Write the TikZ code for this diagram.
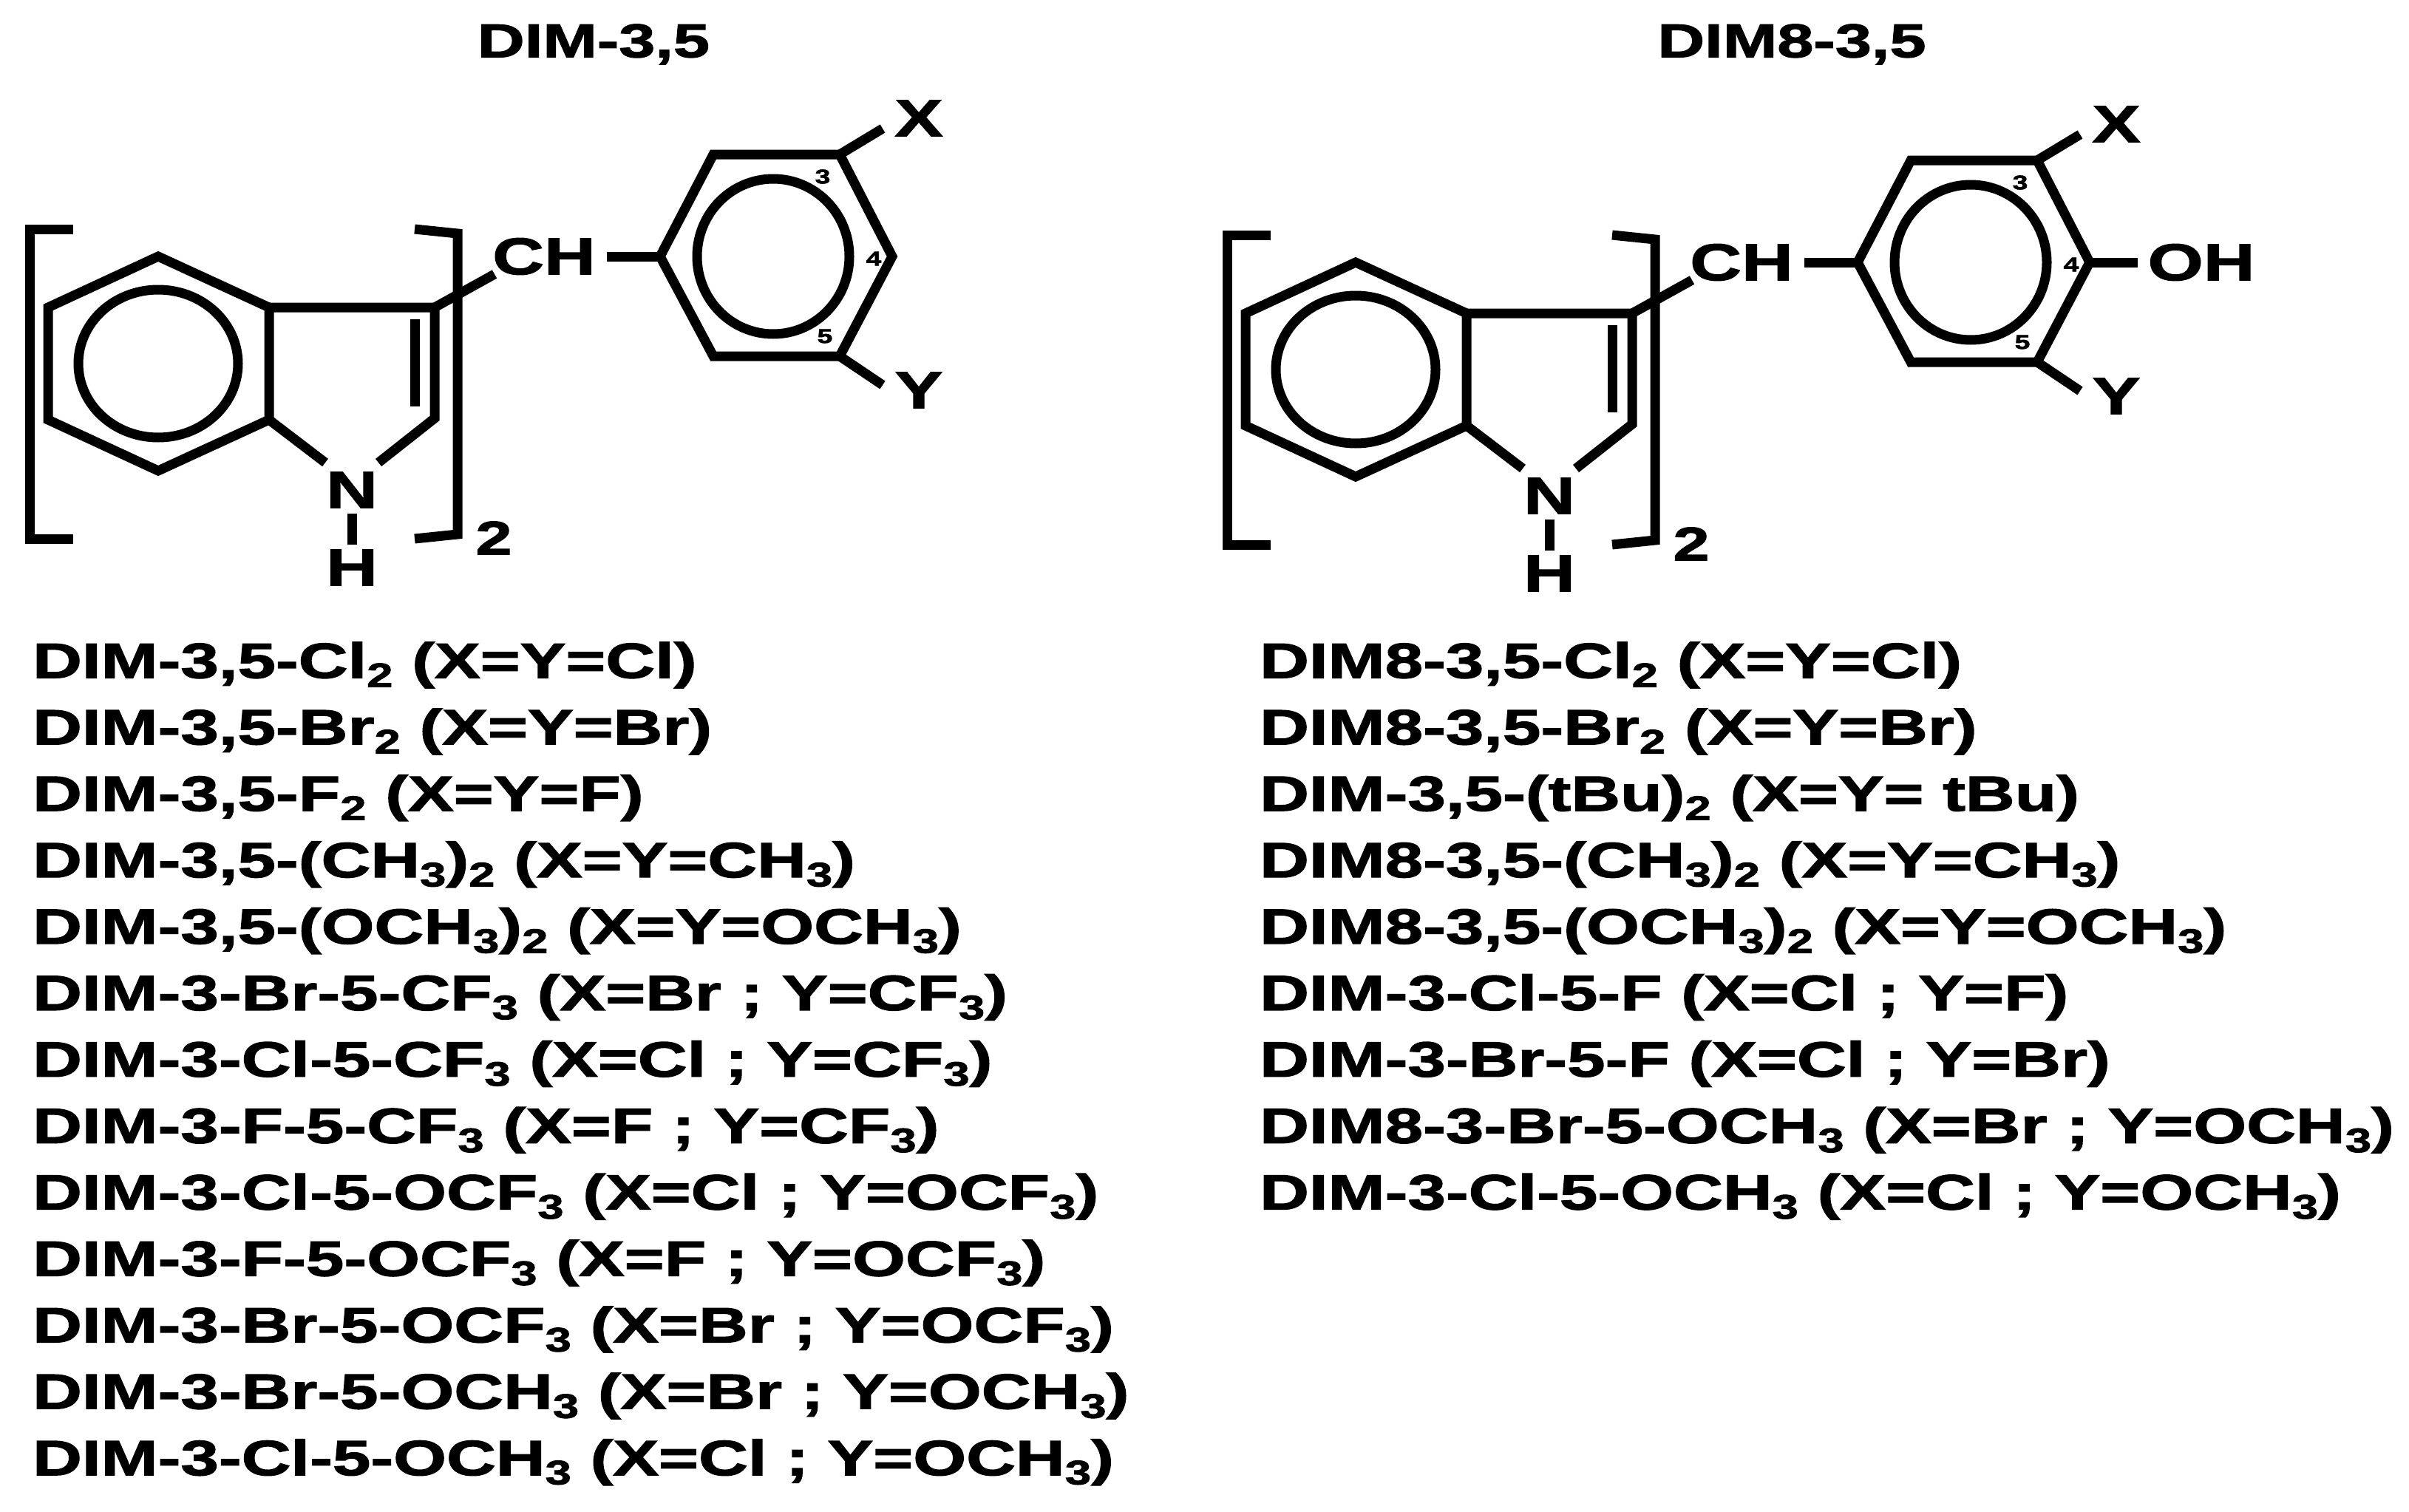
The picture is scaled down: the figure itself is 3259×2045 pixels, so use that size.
\documentclass[tikz,border=0pt]{standalone}
\usepackage{fontspec}
\setmainfont{Liberation Sans}[FakeStretch=1.38,BoldFeatures={FakeBold=2}]
\newcommand\sbs[1]{\raisebox{-.35ex}{\fontsize{46}{46}\selectfont #1}}
\newcommand\dimstr[3]{%
\begin{scope}[shift={(#1,#2)}]
\coordinate (#3b1) at (214,347); \coordinate (#3b2) at (65,416); \coordinate (#3b3) at (65,568);
\coordinate (#3b4) at (214,637); \coordinate (#3b5) at (364,568); \coordinate (#3b6) at (364,416);
\coordinate (#3c3) at (588,416); \coordinate (#3c2) at (588,566);
\node[lbl] (#3n) at (476,663) {N}; \node[lbl] (#3h) at (476,768) {H};
\node[lbl] (#3ch) at (736,347) {CH};
\node[font=\fontsize{64}{64}\selectfont\bfseries] (#3two) at (668,728) {2};
\draw[bond] (#3b1)--(#3b2)--(#3b3)--(#3b4)--(#3b5)--(#3b6)--cycle;
\draw[bond] (214,492) ellipse [x radius=108,y radius=100];
\draw[bond] (#3b6)--(#3c3)--(#3c2)--(512,626);
\draw[bond] (#3b5)--(440,626);
\draw[bond] (561,432)--(561,550);
\draw[bond] (476,695)--(476,737);
\draw[bond] (#3c3)--(669,371);
\draw[bond] (99,310)--(40,310)--(40,729)--(99,729);
\draw[bond] (561,310)--(619,316)--(619,723)--(561,729);
\coordinate (#3p1) at (893,347); \coordinate (#3p2) at (965,209); \coordinate (#3p3) at (1136,209);
\coordinate (#3p4) at (1207,347); \coordinate (#3p5) at (1136,482); \coordinate (#3p6) at (965,482);
\draw[bond] (821,347)--(#3p1);
\draw[bond] (#3p1)--(#3p2)--(#3p3)--(#3p4)--(#3p5)--(#3p6)--cycle;
\draw[bond] (1046,347) ellipse [x radius=103,y radius=105];
\node[lbl] (#3x) at (1243,160) {X}; \node[lbl] (#3y) at (1243,528) {Y};
\draw[bond] (#3p3)--(1194,174); \draw[bond] (#3p5)--(1194,521);
\node[num] at (1113,239) {3}; \node[num] at (1182,350) {4}; \node[num] at (1116,455) {5};
\end{scope}}
\begin{document}
\begin{tikzpicture}[x=1pt,y=-1pt,
  bond/.style={line width=13pt,line join=miter},
  lbl/.style={font=\fontsize{70}{70}\selectfont\bfseries,inner sep=0pt},
  num/.style={font=\fontsize{27}{27}\selectfont\bfseries,inner sep=0pt},
  title/.style={font=\fontsize{64}{64}\selectfont\bfseries},
  item/.style={font=\fontsize{67}{67}\selectfont\bfseries,anchor=west,inner sep=0pt}]
\useasboundingbox (0,0) rectangle (3259,2045);
\node[title] (t1) at (803,60) {DIM-3,5};
\node[title] (t2) at (2424,60) {DIM8-3,5};
\dimstr{0}{0}{L}
\dimstr{1620}{8}{R}
\draw[bond] (Rp4)--(2892,355);
\node[lbl] (oh) at (2978,355) {OH};
\foreach \t [count=\i from 0] in {
 {DIM-3,5-Cl\sbs{2} (X=Y=Cl)},
 {DIM-3,5-Br\sbs{2} (X=Y=Br)},
 {DIM-3,5-F\sbs{2} (X=Y=F)},
 {DIM-3,5-(CH\sbs{3})\sbs{2} (X=Y=CH\sbs{3})},
 {DIM-3,5-(OCH\sbs{3})\sbs{2} (X=Y=OCH\sbs{3})},
 {DIM-3-Br-5-CF\sbs{3} (X=Br ; Y=CF\sbs{3})},
 {DIM-3-Cl-5-CF\sbs{3} (X=Cl ; Y=CF\sbs{3})},
 {DIM-3-F-5-CF\sbs{3} (X=F ; Y=CF\sbs{3})},
 {DIM-3-Cl-5-OCF\sbs{3} (X=Cl ; Y=OCF\sbs{3})},
 {DIM-3-F-5-OCF\sbs{3} (X=F ; Y=OCF\sbs{3})},
 {DIM-3-Br-5-OCF\sbs{3} (X=Br ; Y=OCF\sbs{3})},
 {DIM-3-Br-5-OCH\sbs{3} (X=Br ; Y=OCH\sbs{3})},
 {DIM-3-Cl-5-OCH\sbs{3} (X=Cl ; Y=OCH\sbs{3})}}
 \node[item] (l\i) at (44,900+89.9*\i) {\t};
\foreach \t [count=\i from 0] in {
 {DIM8-3,5-Cl\sbs{2} (X=Y=Cl)},
 {DIM8-3,5-Br\sbs{2} (X=Y=Br)},
 {DIM-3,5-(tBu)\sbs{2} (X=Y= tBu)},
 {DIM8-3,5-(CH\sbs{3})\sbs{2} (X=Y=CH\sbs{3})},
 {DIM8-3,5-(OCH\sbs{3})\sbs{2} (X=Y=OCH\sbs{3})},
 {DIM-3-Cl-5-F (X=Cl ; Y=F)},
 {DIM-3-Br-5-F (X=Cl ; Y=Br)},
 {DIM8-3-Br-5-OCH\sbs{3} (X=Br ; Y=OCH\sbs{3})},
 {DIM-3-Cl-5-OCH\sbs{3} (X=Cl ; Y=OCH\sbs{3})}}
 \node[item] (r\i) at (1704,900+89.9*\i) {\t};
\end{tikzpicture}
\end{document}
